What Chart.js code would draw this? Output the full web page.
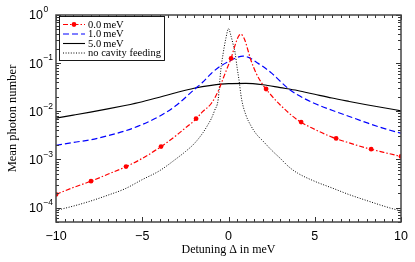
<!DOCTYPE html>
<html><head><meta charset="utf-8">
<style>html,body{margin:0;padding:0;background:#fff;}#wrap{width:415px;height:262px;position:relative;}</style>
<script src="https://cdn.jsdelivr.net/npm/chart.js@4.4.0/dist/chart.umd.min.js"></script>
</head><body><div id="wrap"><canvas id="c" width="415" height="262"></canvas></div>
<script>
// ---- data ----
const redX = [-10,-9,-8,-7,-6,-5,-4,-3,-2.5,-2,-1.5,-1,-0.6,-0.3,0,0.15,0.3,0.45,0.6,0.7,0.8,0.95,1.1,1.3,1.6,2,2.5,3,4,5,6,7,8,9,10];
const redY = [1.87e-4,2.6e-4,3.5e-4,4.9e-4,6.9e-4,1.05e-3,1.75e-3,3.2e-3,4.5e-3,6.3e-3,9.8e-3,0.0145,0.026,0.049,0.092,0.125,0.19,0.28,0.37,0.40,0.38,0.30,0.20,0.115,0.062,0.035,0.021,0.0135,6.6e-3,4.2e-3,2.9e-3,2.2e-3,1.72e-3,1.4e-3,1.15e-3];
const redMarkX = [-10,-7.97,-5.94,-3.91,-1.88,0.15,2.18,4.21,6.24,8.27,10];
const redMarkY = [1.87e-4,3.52e-4,7.1e-4,1.85e-3,7.0e-3,0.125,0.029,5.95e-3,2.72e-3,1.63e-3,1.15e-3];

const blueX = [-10,-9,-8,-7,-6,-5,-4,-3,-2,-1.5,-1,-0.5,0,0.4,0.84,1.2,1.6,2,2.5,3,3.5,4,5,6,7,8,9,10];
const blueY = [1.95e-3,2.25e-3,2.55e-3,3.1e-3,3.9e-3,5.3e-3,7.9e-3,0.0135,0.028,0.040,0.061,0.085,0.108,0.127,0.14,0.13,0.105,0.085,0.062,0.042,0.029,0.022,0.0145,0.0105,7.8e-3,5.8e-3,4.4e-3,3.5e-3];

const blackX = [-10,-9,-8,-7,-6,-5,-4,-3,-2,-1,0,1,2,3,4,5,6,7,8,9,10];
const blackY = [7.2e-3,8.3e-3,9.6e-3,0.0112,0.0132,0.0158,0.0195,0.0245,0.030,0.0345,0.0375,0.038,0.0355,0.031,0.027,0.0225,0.0188,0.0160,0.0137,0.0118,0.0102];

const dotX = [-10,-9,-8,-7,-6,-5,-4,-3,-2.5,-2,-1.5,-1.2,-1,-0.8,-0.6,-0.45,-0.3,-0.15,0,0.15,0.3,0.38,0.5,0.6,0.76,1,1.3,1.6,2,2.5,3,3.5,4,5,6,7,8,9,10];
const dotY = [8.7e-5,1.07e-4,1.36e-4,1.8e-4,2.45e-4,3.8e-4,5.8e-4,1.05e-3,1.45e-3,2.1e-3,3.5e-3,5.2e-3,7.0e-3,0.0105,0.0175,0.07,0.167,0.33,0.52,0.36,0.22,0.167,0.08,0.047,0.0178,8.5e-3,5.0e-3,3.4e-3,2.4e-3,1.55e-3,1.05e-3,7.0e-4,5.2e-4,3.5e-4,2.55e-4,1.85e-4,1.4e-4,1.07e-4,8.4e-5];

const seriesLabels = ['0.0\u2009meV','1.0\u2009meV','5.0\u2009meV','no cavity feeding'];
const xTickLabels = [-10,-5,0,5,10];
const yTickExponents = [0,-1,-2,-3,-4];
const xTitle = 'Detuning \u0394 in meV';
const yTitle = 'Mean photon number';

// ---- styles ----
const styles = [
  {color:'#ff0000', width:1.2, dash:[5,2,1.5,2]},
  {color:'#0000ff', width:1.2, dash:[6,3]},
  {color:'#000000', width:1.1, dash:[]},
  {color:'#000000', width:1.0, dash:[1,1.6]}
];
const pts = (xs, ys) => xs.map((x,i)=>({x:x, y:ys[i]}));
function lineDs(label, xs, ys, s){
  return {label, data: pts(xs,ys), borderColor:s.color, borderWidth:s.width, borderDash:s.dash,
    pointRadius:0, fill:false, cubicInterpolationMode:'monotone'};
}
const datasets = [
  {label:'markers', data: pts(redMarkX, redMarkY), showLine:false, pointRadius:2.4, pointBackgroundColor:'#ff0000', pointBorderColor:'#ff0000', borderWidth:0},
  lineDs(seriesLabels[0], redX, redY, styles[0]),
  lineDs(seriesLabels[1], blueX, blueY, styles[1]),
  lineDs(seriesLabels[2], blackX, blackY, styles[2]),
  lineDs(seriesLabels[3], dotX, dotY, styles[3])
];

const SANS = '"Liberation Sans", Arial, sans-serif';
const SERIF = '"Liberation Serif", "Times New Roman", serif';

const framePlugin = {
  id:'frame',
  afterDraw(chart){
    const ctx = chart.ctx, a = chart.chartArea;
    const xs = chart.scales.x, ys = chart.scales.y;
    ctx.save();
    // ticks
    ctx.strokeStyle = '#333'; ctx.lineWidth = 1; ctx.setLineDash([]);
    ctx.beginPath();
    for (let v=-10; v<=10.001; v+=0.5){
      const px = Math.round(xs.getPixelForValue(v))+0.5;
      const len = (Math.abs(v%5)<1e-9) ? 5 : 3;
      ctx.moveTo(px, a.bottom); ctx.lineTo(px, a.bottom-len);
      ctx.moveTo(px, a.top); ctx.lineTo(px, a.top+len);
    }
    for (let e=-5; e<=0; e++){
      for (let m=1; m<=9; m++){
        const v = m*Math.pow(10,e);
        if (v < ys.min*0.999 || v > ys.max*1.001) continue;
        const py = Math.round(ys.getPixelForValue(v))+0.5;
        const len = m===1 ? 5 : 3;
        ctx.moveTo(a.left, py); ctx.lineTo(a.left+len, py);
        ctx.moveTo(a.right, py); ctx.lineTo(a.right-len, py);
      }
    }
    ctx.stroke();
    // frame
    ctx.strokeStyle = '#444'; ctx.lineWidth = 1.5;
    ctx.strokeRect(a.left, a.top, a.right-a.left, a.bottom-a.top);
    // y tick labels with superscripts
    ctx.fillStyle = '#000';
    ctx.textBaseline = 'middle'; ctx.textAlign = 'left';
    yTickExponents.forEach(e=>{
      const py = ys.getPixelForValue(Math.pow(10,e));
      ctx.font = '12.5px ' + SANS;
      ctx.fillText('10', 29, py+1);
      const w = ctx.measureText('10').width;
      ctx.font = '8.5px ' + SANS;
      ctx.fillText(e===0 ? '0' : '\u2212'+(-e), 29+w+0.5, py-5);
    });
    // legend
    const lx = 59.5, ly = 16.5, lw = 105, lh = 44;
    ctx.fillStyle = '#fff'; ctx.fillRect(lx, ly, lw, lh);
    ctx.strokeStyle = '#000'; ctx.lineWidth = 0.9; ctx.strokeRect(lx, ly, lw, lh);
    const rows = [24.5, 34, 43.5, 53];
    seriesLabels.forEach((t,i)=>{
      const s = styles[i], y = rows[i];
      ctx.strokeStyle = s.color; ctx.lineWidth = s.width; ctx.setLineDash(s.dash);
      ctx.beginPath(); ctx.moveTo(63, y); ctx.lineTo(85, y); ctx.stroke();
      ctx.setLineDash([]);
      if (i===0){ ctx.fillStyle = s.color; ctx.beginPath(); ctx.arc(74, y, 2.4, 0, Math.PI*2); ctx.fill(); }
      ctx.fillStyle = '#000'; ctx.font = '10.5px ' + SERIF; ctx.textBaseline='middle'; ctx.textAlign='left';
      ctx.fillText(t, 88, y+0.5);
    });
    ctx.restore();
  }
};

new Chart(document.getElementById('c'), {
  type:'line',
  data:{datasets},
  options:{
    responsive:false, animation:false, devicePixelRatio:1,
    layout:{padding:{left:0, right:14, top:15, bottom:0}},
    plugins:{legend:{display:false}, tooltip:{enabled:false}},
    scales:{
      x:{type:'linear', position:'bottom', min:-10, max:10,
        grid:{display:false, drawTicks:false}, border:{display:false},
        ticks:{stepSize:5, padding:7, color:'#000', font:{family:SANS, size:12.5},
          callback:(v)=> xTickLabels.includes(v) ? (v<0 ? '\u2212'+Math.abs(v) : String(v)) : ''},
        title:{display:true, text:xTitle, color:'#000', font:{family:SERIF, size:12}, padding:{top:0, bottom:5}},
        afterFit:(s)=>{ s.height = 40; }
      },
      y:{type:'logarithmic', min:5e-5, max:1,
        grid:{display:false, drawTicks:false}, border:{display:false},
        ticks:{display:false},
        title:{display:true, text:yTitle, color:'#000', font:{family:SERIF, size:12.5}, padding:{top:5, bottom:0}},
        afterFit:(s)=>{ s.width = 56; }
      }
    }
  },
  plugins:[framePlugin]
});
</script></body></html>
